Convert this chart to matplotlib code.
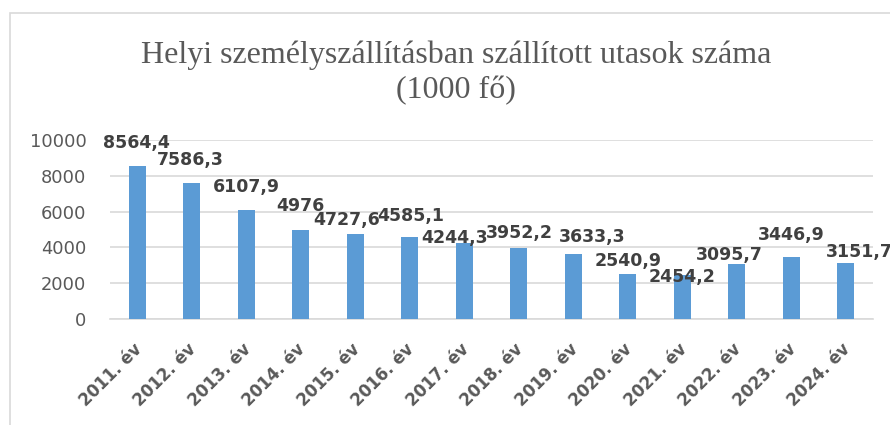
#!/usr/bin/env python3
import matplotlib
matplotlib.use('Agg')
import matplotlib.pyplot as plt
import matplotlib.transforms as mtransforms
from matplotlib.patches import Rectangle

years = ['2011. év', '2012. év', '2013. év', '2014. év', '2015. év', '2016. év', '2017. év',
		 '2018. év', '2019. év', '2020. év', '2021. év', '2022. év', '2023. év', '2024. év']
passengers = [8564.4, 7586.3, 6107.9, 4976, 4727.6, 4585.1, 4244.3,
			  3952.2, 3633.3, 2540.9, 2454.2, 3095.7, 3446.9, 3151.7]
value_labels = ['8564,4', '7586,3', '6107,9', '4976', '4727,6', '4585,1', '4244,3',
				'3952,2', '3633,3', '2540,9', '2454,2', '3095,7', '3446,9', '3151,7']
# label nudges in pixels (the labels were dragged around by hand in the original)
label_dx = [-1, -1, 0, 0, -9, 1, -10, 1, 19, 0, 0, -7, 0, 14]
label_dy = [18, 18, 18, 19, 9, 16, 0, 10, 12, 8, -7, 4, 17, 6]

yticks = [0, 2000, 4000, 6000, 8000, 10000]

title_lines = ['Helyi személyszállításban szállított utasok száma', '(1000 fő)']

def main():
	W, H = 890, 425
	fig = plt.figure(figsize=(W / 100, H / 100), dpi=100)
	fig.patch.set_facecolor('white')

	# chart frame (cropped on the right and at the bottom)
	fig.patches.append(Rectangle((10 / W, -0.1), 1.2, (H - 13) / H + 0.1,
								 transform=fig.transFigure, fill=False,
								 edgecolor='#d9d9d9', linewidth=1.2))

	ax = fig.add_axes([110 / W, 1 - 319 / H, (873 - 110) / W, (319 - 140) / H])
	x = list(range(len(years)))
	ax.bar(x, passengers, width=0.31, color='#5b9bd5', zorder=3)
	ax.set_xlim(-0.5, len(years) - 0.5)
	ax.set_ylim(0, 10000)

	ax.set_yticks(yticks)
	ax.set_yticklabels([str(t) for t in yticks])
	ax.yaxis.grid(True, color='#d9d9d9', linewidth=1.2, zorder=0)
	ax.tick_params(axis='y', length=0, pad=17, labelsize=12.9, labelcolor='#595959')

	ax.set_xticks(x)
	ax.set_xticklabels(years, rotation=45, ha='right', va='center',
					   rotation_mode='anchor', fontweight='bold', fontsize=12)
	ax.tick_params(axis='x', length=0, pad=20, labelcolor='#595959')
	shift = mtransforms.ScaledTranslation(2 / 100, 0, fig.dpi_scale_trans)
	for lab in ax.get_xticklabels():
		lab.set_transform(lab.get_transform() + shift)

	for s in ['top', 'right', 'left']:
		ax.spines[s].set_visible(False)
	ax.spines['bottom'].set_color('#d9d9d9')
	ax.spines['bottom'].set_linewidth(1.2)

	for i, v in enumerate(passengers):
		ax.annotate(value_labels[i], xy=(i, v), xytext=(label_dx[i], label_dy[i]),
					textcoords='offset pixels', ha='center', va='baseline',
					fontsize=12.5, fontweight='bold', color='#404040',
					annotation_clip=False, zorder=4)

	# two title lines placed by baseline
	for line, base in zip(title_lines, [63, 98]):
		fig.text(456 / W, 1 - base / H, line, ha='center', va='baseline',
				 fontsize=23, family='Liberation Serif', color='#595959')

	fig.savefig('out.png', dpi=100)

if __name__ == '__main__':
	main()
